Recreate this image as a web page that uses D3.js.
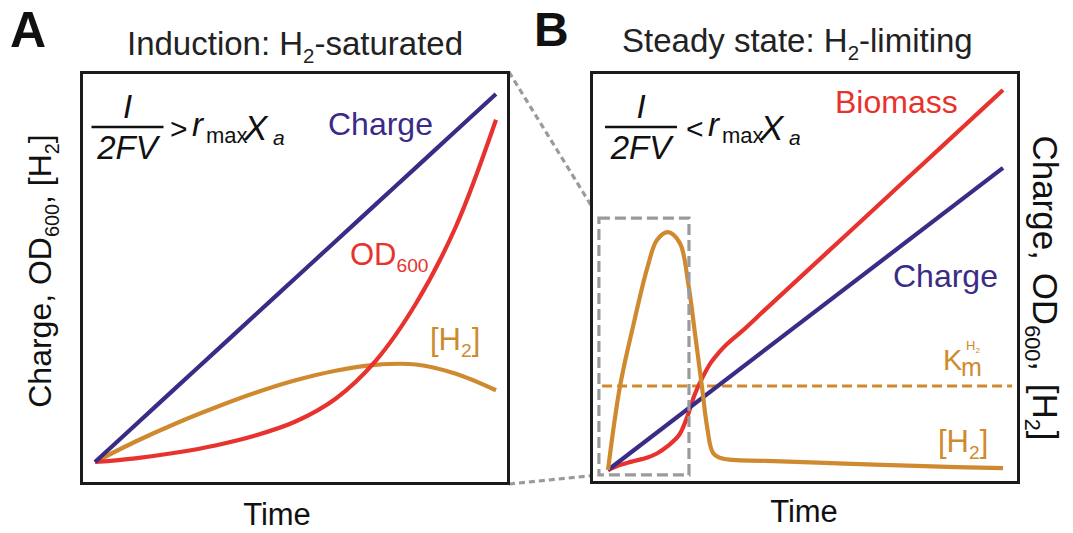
<!DOCTYPE html>
<html><head><meta charset="utf-8">
<script src="https://cdn.jsdelivr.net/npm/d3@7"></script>
<style>
body{margin:0;background:#fff}
svg{display:block}
text{font-family:"Liberation Sans",Arial,Helvetica,sans-serif}
</style>
</head><body>
<svg id="c" width="1073" height="533"></svg>
<script>
// ---------- data (arbitrary units, time 0..10) ----------
const timeA    = [0,1,2,3,4,5,6,7,8,9,10];
const chargeA  = [0,1,2,3,4,5,6,7,8,9,10];
const od600A   = [0,0.1,0.25,0.45,0.72,1.1,1.72,2.75,4.3,6.4,9.3];
const h2A      = [0,0.55,1.04,1.48,1.88,2.22,2.48,2.64,2.65,2.4,1.95];

const timeChargeB = [0,10];
const chargeB     = [0,7.95];
const timeBioB = [0,0.3,0.6,1.0,1.25,1.5,1.8,2.0,2.2,2.4,2.6,2.8,3.0,3.4,4,5,6,7,8,9,10];
const biomassB = [0,0.13,0.22,0.33,0.44,0.62,0.92,1.38,2.0,2.45,2.82,3.08,3.3,3.66,4.24,5.2,6.16,7.12,8.08,9.04,10];
const timeH2B  = [0,0.3,0.63,1.0,1.24,1.52,1.82,2.03,2.2,2.38,2.51,2.66,2.9,4,6,8,10];
const h2B      = [0,2.18,3.76,5.34,6.05,6.26,5.97,4.92,3.61,2.18,1.13,0.45,0.3,0.24,0.17,0.1,0.05];
const kmLevel  = 2.21;
const kmSpan   = [-0.15,10.23];
const zoomBox  = {t0:-0.23, t1:2.05, v0:-0.13, v1:6.63};

const COL = {charge:"#3a2c86", red:"#e8322e", orange:"#cf8a30", gray:"#9a9a9a", frame:"#1b1b1b"};

const svg = d3.select("#c");

// ---------- scales ----------
const xA = d3.scaleLinear().domain([0,10]).range([95,496]);
const yA = d3.scaleLinear().domain([0,10]).range([462,94]);
const xB = d3.scaleLinear().domain([0,10]).range([608,1003]);
const yB = d3.scaleLinear().domain([0,10]).range([470,90]);

function lineOf(ts, vs, x, y){
  return d3.line().x(d=>x(d[0])).y(d=>y(d[1])).curve(d3.curveCatmullRom.alpha(0.5))(ts.map((t,i)=>[t,vs[i]]));
}
function path(d, color, w, dash){
  const p = svg.append("path").attr("d",d).attr("fill","none").attr("stroke",color)
    .attr("stroke-width",w).attr("stroke-linecap","butt").attr("stroke-linejoin","round");
  if(dash) p.attr("stroke-dasharray",dash);
  return p;
}
// rich text: parts [{t, sub, sup, it, fs}]
function rich(x, y, parts, opt){
  opt = opt||{};
  const fs = opt.fs||31;
  const t = svg.append("text").attr("x",x).attr("y",y).attr("font-size",fs)
     .attr("fill",opt.fill||"#111").attr("text-anchor",opt.anchor||"start");
  if(opt.transform) t.attr("transform",opt.transform);
  if(opt.weight) t.attr("font-weight",opt.weight);
  if(opt.ws) t.attr("word-spacing",opt.ws);
  let shift = 0;
  parts.forEach(p=>{
    const s = t.append("tspan").text(p.t);
    let target = 0, size = fs;
    if(p.sub){ size = p.fs||fs*0.62; target = fs*0.24; }
    if(p.sup){ size = p.fs||fs*0.5; target = -fs*0.45; }
    if(p.fs && !p.sub && !p.sup) size = p.fs;
    s.attr("font-size",size);
    if(target!==shift){ s.attr("dy",target-shift); shift = target; }
    if(p.it) s.attr("font-style","italic");
    if(p.dx) s.attr("dx",p.dx);
  });
  return t;
}

// ---------- zoom connectors (behind) ----------
path(`M509,72L${xB(zoomBox.t0)},${yB(zoomBox.v1)}`, COL.gray, 3.2, "6,4");
path(`M509,484L${xB(zoomBox.t0)},${yB(zoomBox.v0)}`, COL.gray, 3.2, "6,4");

// ---------- frames ----------
svg.append("rect").attr("x",81.5).attr("y",72.5).attr("width",427).attr("height",411)
  .attr("fill","#fff").attr("stroke",COL.frame).attr("stroke-width",3);
svg.append("rect").attr("x",591.5).attr("y",72.5).attr("width",427).attr("height",410)
  .attr("fill","#fff").attr("stroke",COL.frame).attr("stroke-width",3);

// ---------- panel A lines ----------
path(lineOf(timeA, h2A, xA, yA), COL.orange, 4.2);
path(lineOf(timeA, od600A, xA, yA), COL.red, 4.2);
path(lineOf(timeA, chargeA, xA, yA), COL.charge, 4.2);

// ---------- panel B lines ----------
path(`M${xB(kmSpan[0])},${yB(kmLevel)}H${xB(kmSpan[1])}`, COL.orange, 3, "10,5");
path(lineOf(timeBioB, biomassB, xB, yB), COL.red, 4.2);
path(lineOf(timeChargeB, chargeB, xB, yB), COL.charge, 4.2);
path(lineOf(timeH2B, h2B, xB, yB), COL.orange, 4.2);
svg.append("rect").attr("x",xB(zoomBox.t0)).attr("y",yB(zoomBox.v1))
  .attr("width",xB(zoomBox.t1)-xB(zoomBox.t0)).attr("height",yB(zoomBox.v0)-yB(zoomBox.v1))
  .attr("fill","none").attr("stroke",COL.gray).attr("stroke-width",3.2).attr("stroke-dasharray","11,5");

// ---------- titles ----------
rich(10,47,[{t:"A"}],{fs:50,weight:"bold"});
rich(534,46,[{t:"B"}],{fs:48,weight:"bold"});
rich(127,55,[{t:"Induction: H"},{t:"2",sub:true},{t:"-saturated"}],{fs:33,fill:"#222"});
rich(622,52,[{t:"Steady state: H"},{t:"2",sub:true},{t:"-limiting"}],{fs:33,fill:"#222"});

// axis labels
rich(277,525,[{t:"Time"}],{fs:31,anchor:"middle"});
rich(804,522,[{t:"Time"}],{fs:31,anchor:"middle"});
rich(0,0,[{t:"Charge, OD"},{t:"600",sub:true},{t:", [H"},{t:"2",sub:true},{t:"]"}],
  {fs:32,anchor:"middle",transform:"translate(51,271) rotate(-90)"});
rich(0,0,[{t:"Charge, OD"},{t:"600",sub:true},{t:", [H"},{t:"2",sub:true},{t:"]"}],
  {fs:35,anchor:"middle",ws:3,transform:"translate(1033,288) rotate(90)"});

// series labels A
rich(328,135,[{t:"Charge"}],{fs:32,fill:COL.charge});
rich(350,265,[{t:"OD"},{t:"600",sub:true}],{fs:31,fill:COL.red});
rich(430,350,[{t:"[H"},{t:"2",sub:true},{t:"]"}],{fs:31,fill:COL.orange});
// series labels B
rich(835,113,[{t:"Biomass"}],{fs:32,fill:COL.red});
rich(893,287,[{t:"Charge"}],{fs:32,fill:COL.charge});
rich(938,452,[{t:"[H"},{t:"2",sub:true},{t:"]"}],{fs:31,fill:COL.orange});
rich(943,370,[{t:"K"}],{fs:29,fill:COL.orange});
rich(961,376,[{t:"m"}],{fs:25,fill:COL.orange});
rich(966,350,[{t:"H"},{t:"2",sub:true}],{fs:13,fill:COL.orange});

// formulas
function formula(cx, x0, sign){
  rich(cx,118,[{t:"I",it:true}],{fs:33,anchor:"middle"});
  svg.append("line").attr("x1",cx-36).attr("x2",cx+36).attr("y1",127).attr("y2",127)
    .attr("stroke","#111").attr("stroke-width",2.5);
  rich(cx,159,[{t:"2FV",it:true}],{fs:33,anchor:"middle"});
  rich(x0,139,[{t:sign}],{fs:30});
  rich(x0+22,136,[{t:"r",it:true}],{fs:33});
  rich(x0+36,143,[{t:"max"}],{fs:22});
  rich(x0+74,140,[{t:"X",it:true}],{fs:35});
  rich(x0+103,145,[{t:"a",it:true}],{fs:21});
}
formula(127.5,170,">");
formula(641,686,"<");
</script>
</body></html>
